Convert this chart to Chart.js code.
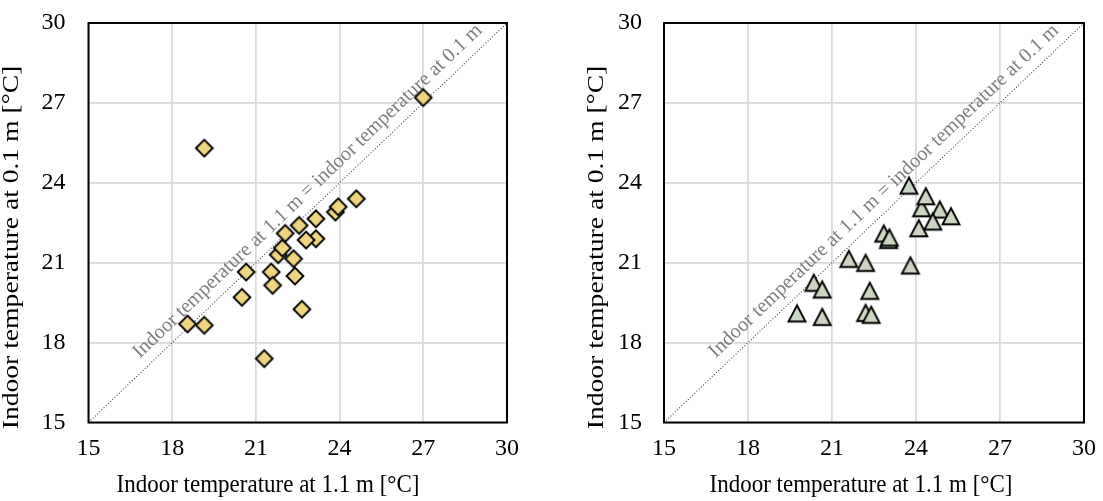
<!DOCTYPE html>
<html><head><meta charset="utf-8">
<script src="https://cdn.jsdelivr.net/npm/chart.js@4.4.1/dist/chart.umd.min.js"></script>
<style>
html,body{margin:0;padding:0;background:#fff;width:1103px;height:501px;overflow:hidden;}
canvas{position:absolute;top:0;}
</style></head><body>
<canvas id="c1" width="545" height="501" style="left:0px;width:545px;height:501px"></canvas>
<canvas id="c2" width="553" height="501" style="left:550px;width:553px;height:501px"></canvas>
<script>
// ---------- data ----------
const axisMin = 15, axisMax = 30, axisStep = 3;
const tickValues = [15, 18, 21, 24, 27, 30];
const xTitle = 'Indoor temperature at 1.1 m [°C]';
const yTitle = 'Indoor temperature at 0.1 m [°C]';
const diagLabel = 'Indoor temperature at 1.1 m = indoor temperature at 0.1 m';
const identityX = [15, 30];
const identityY = [15, 30];
const diagLabelAt = 23.25;

const leftX = [27.0, 19.15, 24.6, 23.85, 23.95, 23.15, 22.55, 21.8, 21.95, 22.05, 23.15, 22.8, 22.35, 20.65, 21.55, 22.4, 21.6, 20.5, 22.65, 18.55, 19.15, 21.3];
const leftY = [27.2, 25.3, 23.4, 22.9, 23.1, 22.65, 22.4, 21.3, 21.55, 22.1, 21.9, 21.85, 21.15, 20.65, 20.65, 20.5, 20.15, 19.7, 19.25, 18.7, 18.65, 17.4];

const rightX = [23.75, 24.2, 24.35, 24.85, 25.25, 24.6, 24.1, 22.85, 23.02, 23.05, 21.6, 22.2, 23.8, 20.35, 20.65, 22.35, 19.75, 20.65, 22.2, 22.4];
const rightY = [23.9, 23.05, 23.5, 23.0, 22.75, 22.55, 22.3, 22.1, 21.86, 21.95, 21.15, 21.0, 20.9, 20.25, 20.0, 19.95, 19.1, 18.97, 19.12, 19.05];

// ---------- layout ----------
const H = 501;
const plotTop = 23, plotBottom = 422.5;
const FONT = "'Liberation Serif', 'Times New Roman', serif";

function markerCanvas(kind, fill) {
  const c = document.createElement('canvas');
  c.width = 24; c.height = 24;
  const g = c.getContext('2d');
  g.translate(12, 12);
  g.beginPath();
  if (kind === 'diamond') {
    const a = 8.4;
    g.moveTo(-a, 0); g.lineTo(0, -a); g.lineTo(a, 0); g.lineTo(0, a);
  } else {
    g.moveTo(0, -8.0); g.lineTo(8.5, 8.2); g.lineTo(-8.5, 8.2);
  }
  g.closePath();
  g.fillStyle = fill; g.fill();
  g.lineWidth = 1.9; g.strokeStyle = '#000'; g.lineJoin = 'miter'; g.stroke();
  return c;
}

const decor = {
  id: 'decor',
  beforeDatasetsDraw(chart, args, opts) {
    const {ctx, scales: {x, y}} = chart;
    const x1 = x.getPixelForValue(identityX[0]), y1 = y.getPixelForValue(identityY[0]);
    const x2 = x.getPixelForValue(identityX[1]), y2 = y.getPixelForValue(identityY[1]);
    const ang = Math.atan2(y2 - y1, x2 - x1);
    const px = x.getPixelForValue(diagLabelAt), py = y.getPixelForValue(diagLabelAt);
    ctx.save();
    ctx.translate(px, py); ctx.rotate(ang);
    ctx.font = '20.3px ' + FONT;
    ctx.fillStyle = '#7f7f7f'; ctx.textAlign = 'center'; ctx.textBaseline = 'middle';
    ctx.fillText(diagLabel, 0, -opts.textOffset);
    ctx.restore();
  },
  afterDraw(chart, args, opts) {
    const {ctx, chartArea: a} = chart;
    ctx.save();
    ctx.strokeStyle = '#000'; ctx.lineWidth = 2;
    ctx.strokeRect(a.left, a.top, a.right - a.left, a.bottom - a.top);
    ctx.fillStyle = '#000';
    ctx.font = '23px ' + FONT;
    ctx.textAlign = 'center'; ctx.textBaseline = 'middle';
    ctx.save();
    ctx.translate(opts.xTitleX, 485);
    ctx.scale(1, 1.12);
    ctx.fillText(xTitle, 0, 0);
    ctx.restore();
    ctx.translate(opts.yTitleX, 247.5);
    ctx.rotate(-Math.PI / 2);
    ctx.scale(1.2, 1);
    ctx.fillText(yTitle, 0, 0);
    ctx.restore();
  }
};

function build(id, xs, ys, marker, g) {
  const pts = xs.map((v, i) => ({x: v, y: ys[i]}));
  const idLine = identityX.map((v, i) => ({x: v, y: identityY[i]}));
  return new Chart(document.getElementById(id), {
    type: 'scatter',
    data: {
      datasets: [
        {data: pts, pointStyle: marker, pointRadius: 9, pointHoverRadius: 9, order: 1},
        {type: 'line', data: idLine, showLine: true, pointRadius: 0, borderColor: '#444', borderWidth: 1.1, borderDash: [1, 2], fill: false, order: 2}
      ]
    },
    options: {
      responsive: false, animation: false, events: [],
      layout: {autoPadding: false, padding: {top: plotTop, left: 0, right: g.padRight, bottom: 0}},
      plugins: {legend: {display: false}, tooltip: {enabled: false},
        decor: {textOffset: 16, xTitleX: g.xTitleX, yTitleX: g.yTitleX}},
      scales: {
        x: {
          type: 'linear', min: axisMin, max: axisMax,
          afterBuildTicks: s => { s.ticks = tickValues.map(v => ({value: v})); },
          afterFit: s => { s.height = H - plotBottom; },
          grid: {color: '#d9d9d9', lineWidth: 1.7, drawTicks: true, tickLength: 12, tickColor: 'rgba(0,0,0,0)'},
          border: {display: false},
          ticks: {stepSize: axisStep, padding: 0, color: '#000', font: {family: FONT, size: 24}, maxRotation: 0, autoSkip: false}
        },
        y: {
          type: 'linear', min: axisMin, max: axisMax,
          afterBuildTicks: s => { s.ticks = tickValues.map(v => ({value: v})); },
          afterFit: s => { s.width = g.yW; },
          grid: {color: '#d9d9d9', lineWidth: 1.7, drawTicks: true, tickLength: g.yPad, tickColor: 'rgba(0,0,0,0)'},
          border: {display: false},
          ticks: {stepSize: axisStep, padding: 0, color: '#000', font: {family: FONT, size: 24}, autoSkip: false}
        }
      }
    },
    plugins: [decor]
  });
}

build('c1', leftX, leftY, markerCanvas('diamond', '#F0D580'), {yW: 88.5, padRight: 545 - 507, yPad: 23, xTitleX: 268, yTitleX: 12});
build('c2', rightX, rightY, markerCanvas('triangle', '#CCD5C1'), {yW: 114, padRight: 553 - 534, yPad: 22, xTitleX: 861 - 550, yTitleX: 597 - 550});
</script>
</body></html>
